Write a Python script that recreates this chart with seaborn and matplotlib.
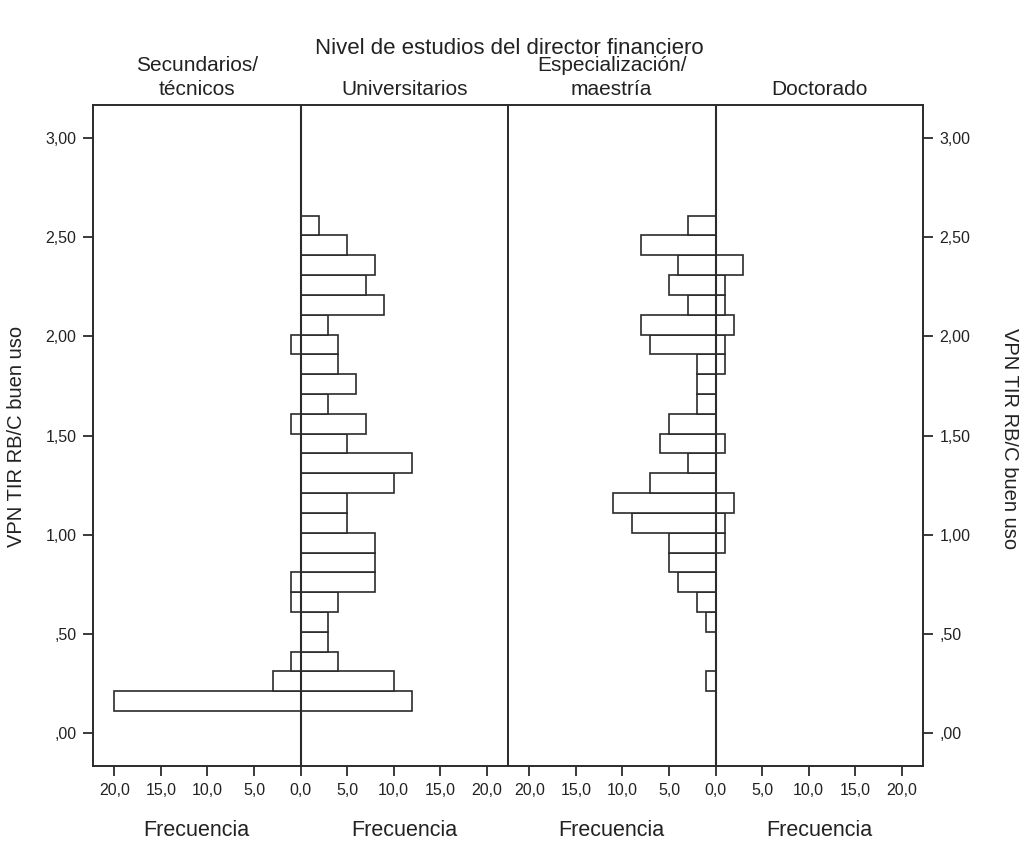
import numpy as np
import pandas as pd
import matplotlib
matplotlib.use("Agg")
import matplotlib.pyplot as plt
import seaborn as sns

# --- data: counts per bin (bins of width 0.1, from 0.11 up to 2.61), bottom -> top ---
bin_edges_start = 0.11
bin_width = 0.1
secundarios = [20, 3, 1, 0, 0, 1, 1, 0, 0, 0, 0, 0, 0, 0, 1, 0, 0, 0, 1, 0, 0, 0, 0, 0, 0]
universitarios = [12, 10, 4, 3, 3, 4, 8, 8, 8, 5, 5, 10, 12, 5, 7, 3, 6, 4, 4, 3, 9, 7, 8, 5, 2]
especializacion = [0, 1, 0, 0, 1, 2, 4, 5, 5, 9, 11, 7, 3, 6, 5, 2, 2, 2, 7, 8, 3, 5, 4, 8, 3]
doctorado = [0, 0, 0, 0, 0, 0, 0, 0, 1, 1, 2, 0, 0, 1, 0, 0, 0, 1, 1, 2, 1, 1, 3, 0, 0]

group_titles = ["Secundarios/\ntécnicos", "Universitarios", "Especialización/\nmaestría", "Doctorado"]
y_ticks = [0.0, 0.5, 1.0, 1.5, 2.0, 2.5, 3.0]
y_ticklabels = [",00", ",50", "1,00", "1,50", "2,00", "2,50", "3,00"]
x_ticks = [-20, -15, -10, -5, 0, 5, 10, 15, 20]
x_ticklabels = ["20,0", "15,0", "10,0", "5,0", "0,0", "5,0", "10,0", "15,0", "20,0"]

main_title = "Nivel de estudios del director financiero"
y_label = "VPN TIR RB/C buen uso"
x_label = "Frecuencia"

centers = np.round(bin_edges_start + bin_width / 2 + bin_width * np.arange(len(universitarios)), 3)

sns.set_style("ticks")
plt.rcParams["font.family"] = ["Liberation Sans", "DejaVu Sans"]

EDGE = "#2b2b2b"
TXT = "#222222"
W, H = 1019, 841
fig = plt.figure(figsize=(W / 100, H / 100), dpi=100)

ax_bottom = 1 - 766 / H
ax_height = (766 - 105) / H
ax1 = fig.add_axes([93 / W, ax_bottom, (508 - 93) / W, ax_height])
ax2 = fig.add_axes([508 / W, ax_bottom, (923 - 508) / W, ax_height])

pairs = [(ax1, secundarios, universitarios), (ax2, especializacion, doctorado)]
for ax, left_counts, right_counts in pairs:
    for counts, sign in [(left_counts, -1), (right_counts, 1)]:
        df = pd.DataFrame({"y": centers, "freq": sign * np.array(counts, dtype=float)})
        df = df[df["freq"] != 0]
        sns.barplot(data=df, x="freq", y="y", orient="h", native_scale=True,
                    width=1.0, color="white", edgecolor=EDGE, linewidth=1.2,
                    errorbar=None, ax=ax, zorder=2)
    ax.axvline(0, color=EDGE, lw=1.5, zorder=3)
    ax.set_xlim(-22.3, 22.3)
    ax.set_ylim(-0.167, 3.168)
    ax.set_xticks(x_ticks)
    ax.set_xticklabels(x_ticklabels)
    ax.set_yticks(y_ticks)
    ax.set_yticklabels(y_ticklabels)
    ax.set_xlabel("")
    ax.set_ylabel("")
    for s in ax.spines.values():
        s.set_visible(True)
        s.set_color(EDGE)
        s.set_linewidth(1.4)
    ax.tick_params(axis="both", length=7, width=1.3, color=EDGE, labelsize=11.5,
                   labelcolor=TXT, pad=5)
    ax.grid(False)

ax1.tick_params(axis="y", left=True, right=False)
ax2.yaxis.tick_right()
ax2.tick_params(axis="y", left=False, right=True)

# group titles and frequency labels per half
halves = [(ax1, 0.25), (ax1, 0.75), (ax2, 0.25), (ax2, 0.75)]
for (ax, xf), title in zip(halves, group_titles):
    ax.text(xf, 1.0 + 6 / (766 - 105), title, transform=ax.transAxes, ha="center",
            va="bottom", fontsize=15, color=TXT, linespacing=1.3)
    ax.text(xf, -(831 - 766) / (766 - 105), x_label, transform=ax.transAxes,
            ha="center", va="center", fontsize=15.5, color=TXT)

fig.text(509 / W, 1 - 48 / H, main_title, ha="center", va="center", fontsize=16, color=TXT)
fig.text(17 / W, 1 - 436 / H, y_label, rotation=90, ha="center", va="center", fontsize=14.5, color=TXT)
fig.text(1010 / W, 1 - 439 / H, y_label, rotation=-90, ha="center", va="center", fontsize=14.5, color=TXT)

fig.savefig("out.png", dpi=100, facecolor="white")
